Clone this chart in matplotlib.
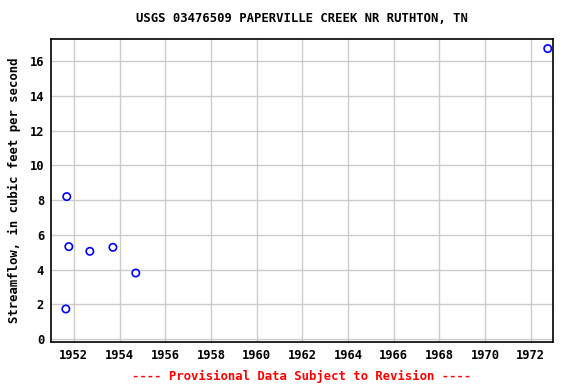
import matplotlib
matplotlib.use("Agg")
import matplotlib.pyplot as plt

# Fechas (años decimales) y caudales
anios = [1951.65, 1951.69, 1951.78, 1952.70, 1953.71, 1954.71, 1972.74]
caudal = [1.73, 8.2, 5.32, 5.05, 5.28, 3.8, 16.72]

xticks = list(range(1952, 1973, 2))
yticks = list(range(0, 17, 2))

plt.rcParams['font.family'] = 'DejaVu Sans Mono'
plt.rcParams['font.weight'] = 'bold'

fig = plt.figure(figsize=(5.76, 3.84), dpi=100)
ax = fig.add_axes([51/576, 1 - 342/384, 502/576, 303/384])

ax.scatter(anios, caudal, s=28, facecolors='none', edgecolors='blue', linewidths=1.2, zorder=3)

ax.set_xlim(1951.0, 1972.97)
ax.set_ylim(-0.17, 17.27)
ax.set_xticks(xticks)
ax.set_yticks(yticks)
ax.grid(color='#cccccc', linewidth=1)
ax.set_axisbelow(True)
ax.tick_params(labelsize=8.7, length=0, pad=5)
for s in ax.spines.values():
    s.set_linewidth(1.2)

ax.set_title("USGS 03476509 PAPERVILLE CREEK NR RUTHTON, TN", fontsize=8.8, fontweight='bold', pad=12)
ax.set_ylabel("Streamflow, in cubic feet per second", fontsize=8.8, fontweight='bold', labelpad=6)
fig.text((51 + 553) / 2 / 576, 1 - 376/384, "---- Provisional Data Subject to Revision ----", color='red',
         ha='center', va='center', fontsize=8.8, fontweight='bold')

fig.savefig("out.png", dpi=100)
